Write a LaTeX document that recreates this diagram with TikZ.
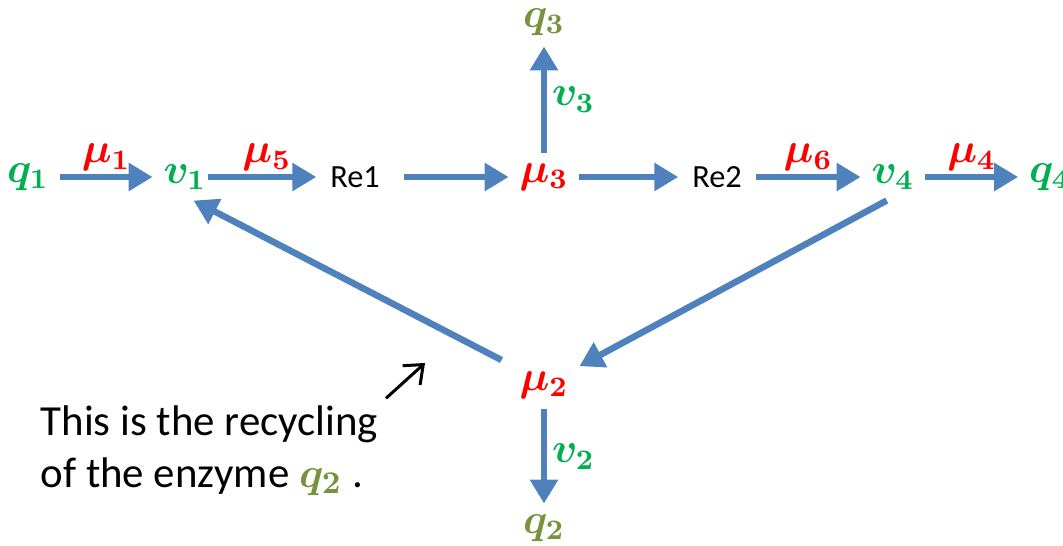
\documentclass[tikz,border=0pt]{standalone}
\usepackage{fontspec}
\setmainfont{Carlito}
\usetikzlibrary{arrows.meta}
\definecolor{flowblue}{HTML}{4F81BD}
\definecolor{fluxgreen}{HTML}{00B050}
\definecolor{poololive}{HTML}{77933C}
\definecolor{ratered}{HTML}{FF0000}
\begin{document}
\begin{tikzpicture}[
  mlab/.style={font=\fontsize{11.5}{13}\selectfont\boldmath, inner sep=0.11cm, outer sep=0pt},
  flux/.style={mlab, text=fluxgreen},
  pool/.style={mlab, text=poololive},
  rate/.style={mlab, text=ratered},
  react/.style={font=\fontsize{9.2}{11}\selectfont, inner sep=0.14cm, outer sep=0pt},
  flow/.style={draw=flowblue, line width=0.065cm, -{Triangle[length=0.24cm, width=0.27cm]}},
  hint/.style={draw=black, line width=0.03cm, -{Straight Barb[length=0.16cm, width=0.26cm]}},
  note/.style={font=\fontsize{12.2}{14.8}\selectfont, align=left, inner sep=0pt, anchor=north west}
]
\useasboundingbox (0,0) rectangle (10.63,5.45);
\def\ry{3.68}
\def\cx{5.44}
% main row
\node[flux] (q1) at (0.28,\ry) {$q_1$};
\node[flux] (v1) at (1.85,\ry) {$v_1$};
\node[react] (re1) at (3.55,\ry) {Re1};
\node[rate] (mu3) at (\cx,\ry) {$\mu_3$};
\node[react] (re2) at (7.17,\ry) {Re2};
\node[flux] (v4) at (8.93,\ry) {$v_4$};
\node[flux] (q4) at (10.50,\ry) {$q_4$};
% branches
\node[pool] (q3) at (\cx,5.23) {$q_3$};
\node[rate] (mu2) at (\cx,1.60) {$\mu_2$};
\node[pool] (q2) at (\cx,0.17) {$q_2$};
% flow
\draw[flow] (q1) -- (v1) node[rate, midway, above, inner sep=0.06cm] {$\mu_1$};
\draw[flow, shorten <=-0.09cm] (v1) -- (re1) node[rate, midway, above, inner sep=0.06cm] {$\mu_5$};
\draw[flow, shorten <=0.1cm] (re1) -- (mu3);
\draw[flow] (mu3) -- (re2);
\draw[flow] (re2) -- (v4) node[rate, midway, above, inner sep=0.06cm] {$\mu_6$};
\draw[flow] (v4) -- (q4) node[rate, midway, above, inner sep=0.06cm] {$\mu_4$};
\draw[flow] (mu3) -- (q3) node[flux, midway, right, inner sep=0.08cm] {$v_3$};
\draw[flow] (mu2) -- (q2) node[flux, midway, right, inner sep=0.08cm] {$v_2$};
% recycling
\draw[flow, shorten <=0.08cm] (mu2.149) -- (v1.-70);
\draw[flow] (v4.-105) -- (mu2.28);
% comment
\node[note] (note) at (0.40,1.40) {This is the recycling\\of the enzyme \textcolor{poololive}{\boldmath$q_2$} .};
\coordinate (tip) at (4.25,1.82);
\draw[hint, shorten <=0.1cm] (note.north east) -- (tip);
\end{tikzpicture}
\end{document}
